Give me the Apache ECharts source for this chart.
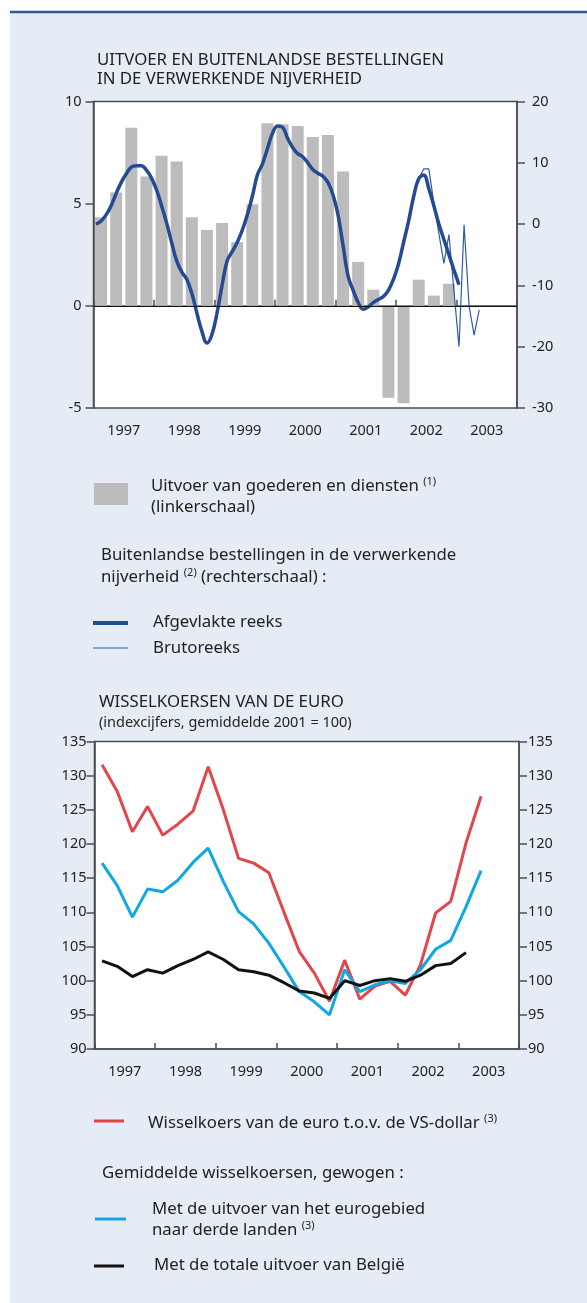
<!DOCTYPE html>
<html>
<head>
<meta charset="utf-8">
<script src="https://cdn.jsdelivr.net/npm/echarts@6/dist/echarts.min.js"></script>
<style>
  html, body { margin: 0; padding: 0; background: #fff; }
  #chart { width: 587px; height: 1303px; }
</style>
</head>
<body>
<div id="chart"></div>
<script>
// jaren op de x-as (labels midden in elk jaar)
const years = ['1997', '1998', '1999', '2000', '2001', '2002', '2003']
const startYear = 1997

// Uitvoer van goederen en diensten, per kwartaal 1997 K1 - 2002 K4 (linkerschaal)
const uitvoer = [
  4.34, 5.55, 8.71, 6.33,
  7.35, 7.06, 4.34, 3.71,
  4.05, 3.12, 4.97, 8.94,
  8.89, 8.80, 8.26, 8.36,
  6.57, 2.15, 0.79, -4.50,
  -4.77, 1.28, 0.50, 1.08
]

// Buitenlandse bestellingen, afgevlakte reeks, maandelijks jan 1997 - jan 2003 (rechterschaal)
const afgevlakt = [
  0.0, 0.5, 1.5, 3.0, 5.0, 6.8, 8.2, 9.3, 9.5, 9.5, 8.8, 7.5,
  5.6, 3.0, 0.2, -3.0, -6.0, -7.8, -9.0, -11.3, -14.5, -17.5, -19.4, -18.0,
  -14.5, -10.0, -6.0, -4.5, -3.0, -1.0, 1.5, 4.5, 8.0, 9.8, 12.3, 14.8,
  16.0, 15.8, 14.0, 12.5, 11.5, 11.0, 10.0, 8.9, 8.3, 7.8, 6.8, 4.8,
  1.5, -3.5, -8.5, -10.8, -12.8, -13.9, -13.5, -12.8, -12.3, -11.8, -10.8, -9.0,
  -6.5, -3.0, 0.5, 4.5, 7.4, 8.0, 5.8, 3.0, 0.0, -2.5, -5.0, -7.5,
  -9.9
]

// Brutoreeks, maandelijks mei 2002 - mei 2003
const brutoMaanden = ['2002-05', '2002-06', '2002-07', '2002-08', '2002-09', '2002-10', '2002-11',
  '2002-12', '2003-01', '2003-02', '2003-03', '2003-04', '2003-05']
const bruto = [7.4, 9.0, 9.0, 3.5, -1.5, -6.4, -1.7, -11.0, -20.0, -0.1, -13.4, -18.1, -14.0]

// Wisselkoersen van de euro, per kwartaal vanaf 1997 K1 (index 2001 = 100)
const koersDollar = [
  131.6, 127.7, 121.8, 125.5,
  121.3, 122.9, 124.8, 131.3,
  125.0, 117.9, 117.2, 115.8,
  110.0, 104.3, 101.1, 97.0,
  103.0, 97.3, 99.2, 99.9,
  97.9, 102.3, 109.9, 111.6,
  120.1, 127.0
]
const koersEurogebied = [
  117.2, 113.9, 109.3, 113.4,
  113.0, 114.7, 117.3, 119.4,
  114.5, 110.1, 108.3, 105.5,
  102.0, 98.4, 96.9, 95.0,
  101.6, 98.4, 99.4, 100.0,
  99.6, 101.6, 104.6, 105.9,
  110.8, 116.1
]
const koersBelgie = [
  102.9, 102.1, 100.6, 101.6,
  101.1, 102.2, 103.1, 104.2,
  103.1, 101.6, 101.3, 100.8,
  99.7, 98.5, 98.2, 97.4,
  100.0, 99.3, 100.0, 100.3,
  99.9, 100.8, 102.2, 102.5,
  104.1
]

const FONT = '"Noto Sans", "Open Sans", sans-serif'
const TEXT = '#222'
const AXIS = '#4d4d4d'
const GREY_BAR = '#bcbcbc'
const BLUE = '#234a92'
const BIG = 16.8

// positie in maanden sinds jan 1997
const quarterX = (i) => i * 3 + 1.5
const monthX = (i) => i + 0.5
const monthKeyX = (key) => {
  const [y, m] = key.split('-').map(Number)
  return (y - startYear) * 12 + (m - 1) + 0.5
}

const chart = echarts.init(document.getElementById('chart'))

const valueX = (gridIndex) => ({
  type: 'value',
  gridIndex,
  min: 0,
  max: 84,
  interval: 12,
  axisLine: { show: true, lineStyle: { color: AXIS, width: 1.5 } },
  axisTick: { show: true, inside: true, length: 6, lineStyle: { color: AXIS, width: 1.5 } },
  axisLabel: { show: false },
  splitLine: { show: false }
})

const yearX = (gridIndex) => ({
  type: 'category',
  gridIndex,
  data: years,
  boundaryGap: true,
  position: 'bottom',
  axisLine: { show: false },
  axisTick: { show: false },
  splitLine: { show: false },
  axisLabel: { margin: 15, fontSize: 14.5, color: TEXT, fontFamily: FONT }
})

const valueY = (gridIndex, position, min, max, interval, margin) => ({
  type: 'value',
  gridIndex,
  position,
  min,
  max,
  interval,
  axisLine: { show: true, lineStyle: { color: AXIS, width: 1.5 } },
  axisTick: { show: true, inside: false, length: 8, lineStyle: { color: AXIS, width: 1.5 } },
  splitLine: { show: false },
  axisLabel: { margin, fontSize: 14.5, color: TEXT, fontFamily: FONT }
})

const txt = (text, x, y, size) => ({
  type: 'text',
  x,
  y,
  silent: true,
  style: {
    text,
    fill: TEXT,
    fontSize: size,
    fontFamily: FONT,
    textVerticalAlign: 'middle',
    rich: { s: { fontSize: 11, fontFamily: FONT, fill: TEXT, padding: [0, 0, 9, 0] } }
  }
})

const seg = (x1, x2, y, color, width) => ({
  type: 'line',
  silent: true,
  shape: { x1, y1: y, x2, y2: y },
  style: { stroke: color, lineWidth: width }
})

const option = {
  animation: false,
  backgroundColor: '#fff',
  grid: [
    { left: 93.5, top: 101.5, width: 423.5, height: 306.5, show: true, backgroundColor: '#fff', borderColor: AXIS, borderWidth: 1.5 },
    { left: 94.5, top: 741.5, width: 424.5, height: 307.5, show: true, backgroundColor: '#fff', borderColor: AXIS, borderWidth: 1.5 }
  ],
  xAxis: [valueX(0), yearX(0), valueX(1), yearX(1)],
  yAxis: [
    valueY(0, 'left', -5, 10, 5, 12),
    valueY(0, 'right', -30, 20, 10, 15),
    valueY(1, 'left', 90, 135, 5, 8),
    valueY(1, 'right', 90, 135, 5, 9)
  ],
  graphic: [
    { type: 'rect', z: -10, silent: true, shape: { x: 10, y: 12, width: 577, height: 1291 }, style: { fill: '#e6ecf5' } },
    seg(10, 587, 12, '#2f559b', 2.5),

    txt('UITVOER EN BUITENLANDSE BESTELLINGEN', 97, 60, BIG),
    txt('IN DE VERWERKENDE NIJVERHEID', 97, 79, BIG),

    { type: 'rect', silent: true, shape: { x: 94, y: 483, width: 34, height: 22 }, style: { fill: GREY_BAR } },
    txt('Uitvoer van goederen en diensten {s|(1)}', 151, 486, BIG),
    txt('(linkerschaal)', 151, 507, BIG),
    txt('Buitenlandse bestellingen in de verwerkende', 101, 555, BIG),
    txt('nijverheid {s|(2)} (rechterschaal) :', 101, 577, BIG),
    seg(93, 128, 623, BLUE, 4),
    txt('Afgevlakte reeks', 153, 622, BIG),
    seg(93, 128, 648, '#2f5aa6', 1),
    txt('Brutoreeks', 153, 648, BIG),

    txt('WISSELKOERSEN VAN DE EURO', 99, 702, BIG),
    txt('(indexcijfers, gemiddelde 2001 = 100)', 99, 723, 14.5),

    seg(94, 124, 1121, '#e2464b', 3),
    txt('Wisselkoers van de euro t.o.v. de VS-dollar {s|(3)}', 148, 1123, BIG),
    txt('Gemiddelde wisselkoersen, gewogen :', 102, 1173, BIG),
    seg(95, 126, 1219, '#10a7e2', 3),
    txt('Met de uitvoer van het eurogebied', 152, 1209, BIG),
    txt('naar derde landen {s|(3)}', 152, 1230, BIG),
    seg(94, 124, 1266, '#111', 3),
    txt('Met de totale uitvoer van België', 154, 1265, BIG)
  ],
  series: [
    {
      name: 'Uitvoer van goederen en diensten',
      type: 'bar',
      xAxisIndex: 0,
      yAxisIndex: 0,
      barWidth: 12,
      itemStyle: { color: GREY_BAR },
      data: uitvoer.map((v, i) => [quarterX(i), v]),
      markLine: {
        silent: true,
        symbol: 'none',
        label: { show: false },
        lineStyle: { color: '#111', width: 1.2, type: 'solid' },
        data: [{ yAxis: 0 }]
      }
    },
    {
      name: 'Brutoreeks',
      type: 'line',
      xAxisIndex: 0,
      yAxisIndex: 1,
      showSymbol: false,
      lineStyle: { color: '#2f5aa6', width: 1.2 },
      data: bruto.map((v, i) => [monthKeyX(brutoMaanden[i]), v])
    },
    {
      name: 'Afgevlakte reeks',
      type: 'line',
      xAxisIndex: 0,
      yAxisIndex: 1,
      showSymbol: false,
      smooth: 0.4,
      lineStyle: { color: BLUE, width: 3.5 },
      data: afgevlakt.map((v, i) => [monthX(i), v])
    },
    {
      name: 'Wisselkoers van de euro t.o.v. de VS-dollar',
      type: 'line',
      xAxisIndex: 2,
      yAxisIndex: 2,
      showSymbol: false,
      lineStyle: { color: '#e2464b', width: 3 },
      data: koersDollar.map((v, i) => [quarterX(i), v])
    },
    {
      name: 'Met de uitvoer van het eurogebied naar derde landen',
      type: 'line',
      xAxisIndex: 2,
      yAxisIndex: 2,
      showSymbol: false,
      lineStyle: { color: '#10a7e2', width: 3 },
      data: koersEurogebied.map((v, i) => [quarterX(i), v])
    },
    {
      name: 'Met de totale uitvoer van België',
      type: 'line',
      xAxisIndex: 2,
      yAxisIndex: 2,
      showSymbol: false,
      lineStyle: { color: '#111', width: 3 },
      data: koersBelgie.map((v, i) => [quarterX(i), v])
    }
  ]
}

chart.setOption(option)
</script>
</body>
</html>
